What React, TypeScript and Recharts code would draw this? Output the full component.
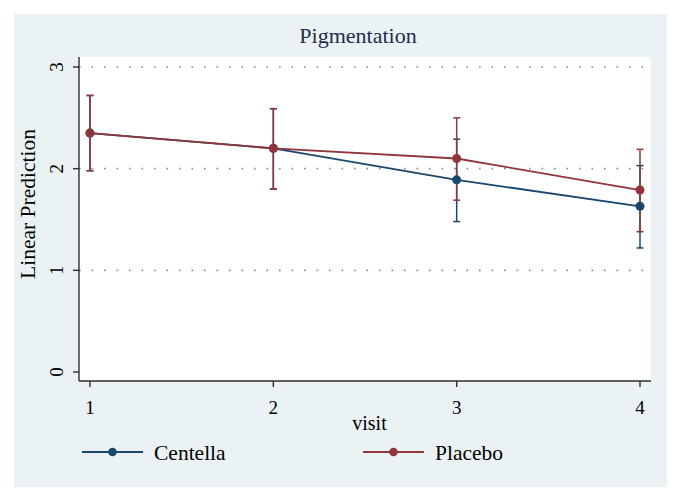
import React from 'react';
import { LineChart, Line, XAxis, YAxis, ErrorBar, ReferenceLine, Legend, CartesianGrid } from 'recharts';

const visits = [1, 2, 3, 4];
const centella = [2.35, 2.2, 1.89, 1.63];
const centellaLow = [1.98, 1.8, 1.48, 1.22];
const centellaHigh = [2.72, 2.59, 2.29, 2.03];
const placebo = [2.35, 2.2, 2.1, 1.79];
const placeboLow = [1.98, 1.8, 1.69, 1.38];
const placeboHigh = [2.72, 2.59, 2.5, 2.19];
const yTicks = [0, 1, 2, 3];
const gridValues = [1, 2, 3];
const seriesNames = ['Centella', 'Placebo'];
const seriesColors = ['#1a476f', '#90353b'];
const chartTitle = 'Pigmentation';
const xTitle = 'visit';
const yTitle = 'Linear Prediction';

const data = visits.map((v, i) => ({
  visit: v,
  centella: centella[i],
  centellaErr: [centella[i] - centellaLow[i], centellaHigh[i] - centella[i]],
  placebo: placebo[i],
  placeboErr: [placebo[i] - placeboLow[i], placeboHigh[i] - placebo[i]],
}));

const FONT = '"Liberation Serif", "Times New Roman", serif';

const YTick = (props: any) => {
  const { x, y, payload } = props;
  return (
    <text
      x={x}
      y={y}
      transform={`rotate(-90, ${x}, ${y})`}
      textAnchor="middle"
      dominantBaseline="central"
      fontSize={19}
      fontFamily={FONT}
      fill="#000"
    >
      {payload.value}
    </text>
  );
};

const YLabel = (props: any) => {
  const vb = props.viewBox || { x: 19, y: 57, width: 60, height: 324 };
  const x = vb.x + 16;
  const y = vb.y + vb.height / 2 - 15;
  return (
    <text x={x} y={y} transform={`rotate(-90, ${x}, ${y})`} textAnchor="middle" fontSize={21.5} fontFamily={FONT} fill="#000">
      {yTitle}
    </text>
  );
};

const XLabel = (props: any) => {
  const vb = props.viewBox || { x: 79, y: 381, width: 572, height: 50 };
  const x = vb.x + vb.width / 2 + 4.5;
  const y = vb.y + 49;
  return (
    <text x={x} y={y} textAnchor="middle" fontSize={20} fontFamily={FONT} fill="#000">
      {xTitle}
    </text>
  );
};

const LegendContent = () => {
  const starts = [82, 363];
  return (
    <svg width={682} height={30} style={{ display: 'block' }}>
      {seriesNames.map((n, i) => {
        const x0 = starts[i];
        return (
          <g key={n}>
            <line x1={x0} y1={15} x2={x0 + 61} y2={15} stroke={seriesColors[i]} strokeWidth={1.8} />
            <circle cx={x0 + 30.5} cy={15} r={4.3} fill={seriesColors[i]} />
            <text x={x0 + 72} y={22.5} fontSize={21.5} fontFamily={FONT} fill="#000">
              {n}
            </text>
          </g>
        );
      })}
    </svg>
  );
};

export default function App() {
  return (
    <div style={{ position: 'absolute', left: 0, top: 0, width: 682, height: 502, background: '#fff' }}>
      <div style={{ position: 'absolute', left: 14, top: 14, width: 653, height: 473, background: '#eaf2f3' }} />
      <div
        style={{
          position: 'absolute',
          left: 0,
          top: 24.6,
          width: 716,
          textAlign: 'center',
          fontFamily: FONT,
          fontSize: 22,
          lineHeight: '22px',
          color: '#1f2d4e',
        }}
      >
        {chartTitle}
      </div>
      <div style={{ position: 'absolute', left: 0, top: 0 }}>
        <LineChart width={682} height={502} data={data} margin={{ top: 57, right: 31, bottom: 71, left: 19 }}>
          <CartesianGrid fill="#ffffff" horizontal={false} vertical={false} />
          {gridValues.map((v) => (
            <ReferenceLine key={v} y={v} stroke="#8a8a8a" strokeWidth={1.6} strokeDasharray="1.6 10.9" />
          ))}
          <XAxis
            dataKey="visit"
            type="number"
            domain={[1, 4]}
            ticks={visits}
            padding={{ left: 11, right: 11 }}
            height={50}
            tickSize={6}
            tickMargin={14}
            axisLine={{ stroke: '#2e2e2e', strokeWidth: 1.4 }}
            tickLine={{ stroke: '#2e2e2e', strokeWidth: 1.4 }}
            tick={{ fontSize: 19, fill: '#000', fontFamily: FONT }}
            label={XLabel}
          />
          <YAxis
            type="number"
            domain={[0, 3]}
            ticks={yTicks}
            padding={{ top: 10, bottom: 9 }}
            width={60}
            tickSize={6}
            tickMargin={16.5}
            axisLine={{ stroke: '#2e2e2e', strokeWidth: 1.4 }}
            tickLine={{ stroke: '#2e2e2e', strokeWidth: 1.4 }}
            tick={<YTick />}
            label={YLabel}
          />
          <Line
            dataKey="centella"
            name={seriesNames[0]}
            type="linear"
            stroke={seriesColors[0]}
            strokeWidth={1.8}
            dot={{ r: 4.5, fill: seriesColors[0], stroke: seriesColors[0], strokeWidth: 0 }}
            activeDot={false}
            isAnimationActive={false}
          >
            <ErrorBar dataKey="centellaErr" direction="y" width={3.5} stroke={seriesColors[0]} strokeWidth={1.5} isAnimationActive={false} />
          </Line>
          <Line
            dataKey="placebo"
            name={seriesNames[1]}
            type="linear"
            stroke={seriesColors[1]}
            strokeWidth={1.8}
            dot={{ r: 4.5, fill: seriesColors[1], stroke: seriesColors[1], strokeWidth: 0 }}
            activeDot={false}
            isAnimationActive={false}
          >
            <ErrorBar dataKey="placeboErr" direction="y" width={3.5} stroke={seriesColors[1]} strokeWidth={1.5} isAnimationActive={false} />
          </Line>
          <Legend
            layout="horizontal"
            verticalAlign="middle"
            align="center"
            wrapperStyle={{ position: 'absolute', top: 437, left: 0, width: 682, height: 30 }}
            content={<LegendContent />}
          />
        </LineChart>
      </div>
    </div>
  );
}
